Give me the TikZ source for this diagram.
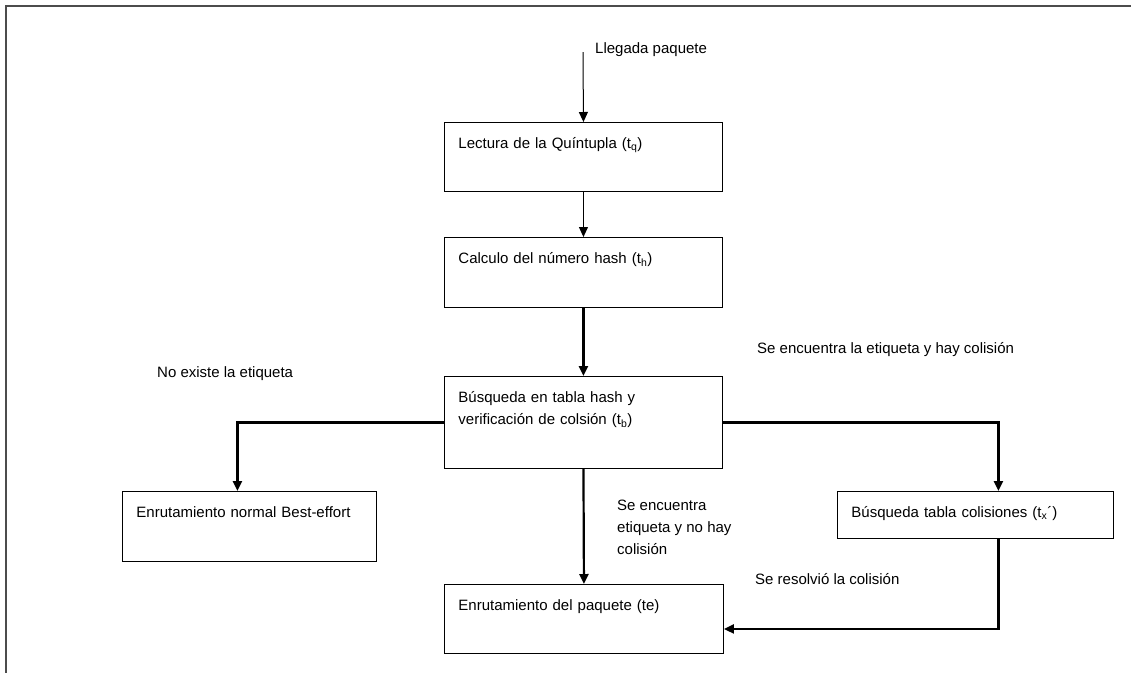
\documentclass[tikz,border=0pt]{standalone}
\usepackage{fontspec}
\setmainfont{Liberation Sans}
\usepackage{tikz}
\usetikzlibrary{arrows.meta,calc}

\tikzset{
  paso/.style={draw, line width=0.9pt, anchor=north west, align=left,
    inner xsep=14pt, inner ysep=8pt, text height=18pt},
  rotulo/.style={anchor=base west, inner sep=0pt},
  flecha/.style={line width=1pt, -{Triangle[length=10pt,width=9pt]}},
  flechag/.style={line width=2.2pt, -{Triangle[length=10pt,width=9pt]}}
}

\begin{document}
\begin{tikzpicture}[x=1pt,y=-1pt,font=\fontsize{15}{22}\selectfont]
  \useasboundingbox (0,0) rectangle (1131,673);
  \draw[line width=2pt, black!70] (1131,6) -- (6,6) -- (6,673);

  % cajas
  \node[paso, text width=250pt, text depth=35pt] (lectura) at (444,122)
    {Lectura de la Quíntupla (t\textsubscript{q})};
  \node[paso, text width=250pt, text depth=36pt] (hash) at (444,237)
    {Calculo del número hash (t\textsubscript{h})};
  \node[paso, text width=250pt, text depth=58pt] (busq) at (444,376)
    {Búsqueda en tabla hash y\\verificación de colsión (t\textsubscript{b})};
  \node[paso, text width=226pt, text depth=36pt] (normal) at (122,491)
    {Enrutamiento normal Best-effort};
  \node[paso, text width=248pt, text depth=13pt] (colis) at (837,491)
    {Búsqueda tabla colisiones (t\textsubscript{x}´)};
  \node[paso, text width=251pt, text depth=35pt] (enrut) at (444,584)
    {Enrutamiento del paquete (te)};

  % textos
  \node[rotulo] (llegada) at (595,53) {Llegada paquete};
  \node[rotulo] (hay) at (757,353) {Se encuentra la etiqueta y hay colisión};
  \node[rotulo] (noex) at (157,377) {No existe la etiqueta};
  \node[anchor=north west, inner sep=0pt, align=left] (nohay) at (617,500)
    {Se encuentra\\etiqueta y no hay\\colisión};
  \node[rotulo] (resuelve) at (755,584) {Se resolvió la colisión};

  % flechas
  \coordinate (entrada) at (583,52);
  \draw[flecha] (entrada) -- (lectura.north);
  \draw[flecha] (lectura.south) -- (hash.north);
  \draw[flechag] (hash.south) -- (busq.north);
  \draw[flechag] (busq.south) -- (enrut.north);
  \draw[flechag] (busq.west) -| ([xshift=-12pt]normal.north);
  \draw[flechag] (busq.east) -| ([xshift=23pt]colis.north);
  \draw[flechag] ([xshift=23pt]colis.south) |- ([yshift=-10pt]enrut.east);
\end{tikzpicture}
\end{document}
